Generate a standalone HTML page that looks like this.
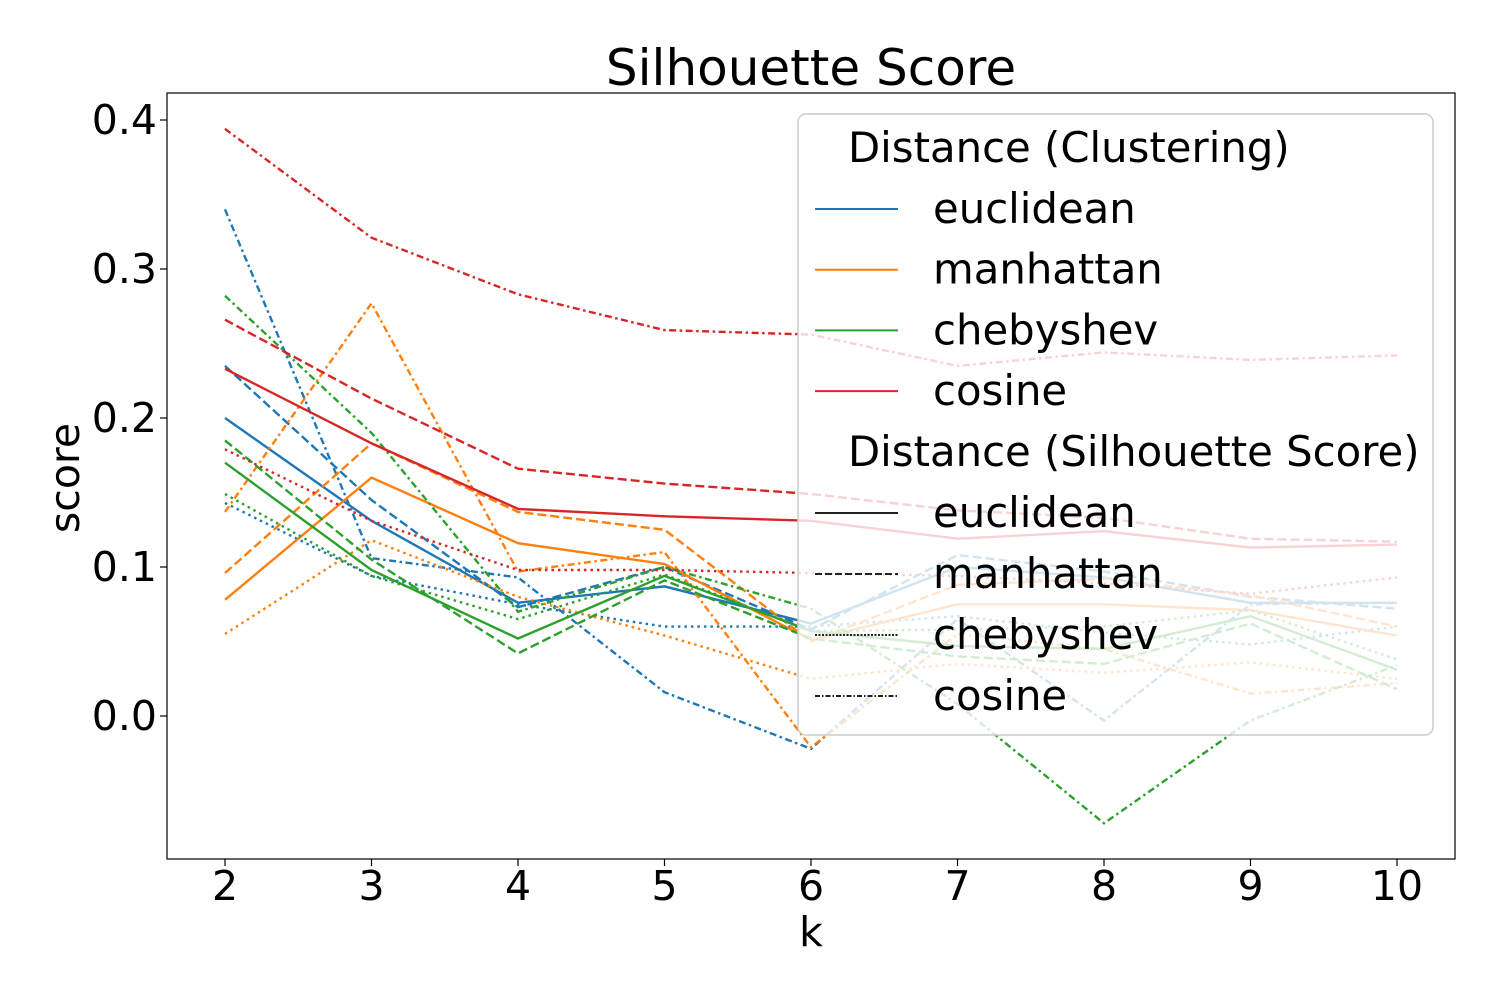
<!DOCTYPE html>
<html><head><meta charset="utf-8"><style>
body{margin:0;background:#fff}
svg text{font-family:"DejaVu Sans","Liberation Sans",sans-serif;fill:#000}
</style></head><body>
<svg id="c" width="1500" height="1000" viewBox="0 0 1500 1000">
<rect x="0" y="0" width="1500" height="1000" fill="#fff"/>
<text x="811" y="85" font-size="50" text-anchor="middle">Silhouette Score</text>
<g id="lines"></g>
<g id="axes"></g>
<g id="legend"></g>
</svg>
<script>
const ks = [2,3,4,5,6,7,8,9,10];
const clusterNames = ['euclidean','manhattan','chebyshev','cosine'];
const scoreNames = ['euclidean','manhattan','chebyshev','cosine'];
const colors = ['#1f77b4','#ff7f0e','#2ca02c','#d62728'];
const dashes = ['', '9,4', '2.5,4', '7,3.5,2.5,3.5'];
const yTicks = [0.0,0.1,0.2,0.3,0.4];
const yTickLabels = ['0.0','0.1','0.2','0.3','0.4'];
// values [clusterDistance][scoreDistance]
const euclideanClust = [
 [0.200,0.131,0.076,0.087,0.062,0.100,0.093,0.076,0.076],
 [0.235,0.145,0.073,0.100,0.058,0.108,0.097,0.080,0.072],
 [0.143,0.094,0.075,0.060,0.060,0.067,0.056,0.048,0.060],
 [0.340,0.106,0.093,0.016,-0.022,0.065,-0.003,0.075,0.076]];
const manhattanClust = [
 [0.078,0.160,0.116,0.102,0.051,0.075,0.075,0.071,0.054],
 [0.096,0.183,0.137,0.125,0.050,0.088,0.092,0.081,0.060],
 [0.055,0.118,0.080,0.054,0.025,0.035,0.029,0.036,0.025],
 [0.137,0.277,0.097,0.110,-0.021,0.055,0.045,0.015,0.022]];
const chebyshevClust = [
 [0.170,0.098,0.052,0.094,0.057,0.047,0.045,0.067,0.031],
 [0.185,0.105,0.042,0.091,0.052,0.040,0.035,0.062,0.018],
 [0.149,0.094,0.065,0.095,0.057,0.058,0.060,0.071,0.038],
 [0.282,0.190,0.070,0.100,0.072,0.008,-0.072,-0.003,0.034]];
const cosineClust = [
 [0.233,0.183,0.139,0.134,0.131,0.119,0.124,0.113,0.115],
 [0.266,0.213,0.166,0.156,0.149,0.138,0.133,0.119,0.117],
 [0.179,0.131,0.098,0.098,0.096,0.094,0.089,0.082,0.093],
 [0.394,0.321,0.283,0.259,0.256,0.235,0.244,0.239,0.242]];
const allSeries = [euclideanClust, manhattanClust, chebyshevClust, cosineClust];

const NS='http://www.w3.org/2000/svg';
const L=167,R=1455,T=93,B=859;
const xs = k => 225 + (k-2)*(1397-225)/8;
const ys = v => 716 - v*1490;
function mk(tag, attrs, parent){const e=document.createElementNS(NS,tag);for(const a in attrs)e.setAttribute(a,attrs[a]);parent.appendChild(e);return e;}

const lines=document.getElementById('lines');
allSeries.forEach((grp,ci)=>{
  grp.forEach((vals,si)=>{
    const d=vals.map((v,i)=>(i?'L':'M')+xs(ks[i]).toFixed(1)+','+ys(v).toFixed(1)).join(' ');
    const p=mk('path',{d:d,fill:'none',stroke:colors[ci],'stroke-width':2.4,'stroke-dasharray':dashes[si]||'none'},lines);
    
    
  });
});

const ax=document.getElementById('axes');
const frame=mk('rect',{x:L,y:T,width:R-L,height:B-T,fill:'none',stroke:'#000','stroke-width':1.2},ax);


ks.forEach(k=>{
  const t=mk('line',{x1:xs(k),x2:xs(k),y1:B,y2:B+7,stroke:'#000','stroke-width':1.2},ax);
  
  
  const tx=mk('text',{x:xs(k),y:900,'font-size':41,'text-anchor':'middle'},ax);
  tx.textContent=k;
  
  
});
yTicks.forEach((v,i)=>{
  const t=mk('line',{x1:L-7,x2:L,y1:ys(v),y2:ys(v),stroke:'#000','stroke-width':1.2},ax);
  
  
  const tx=mk('text',{x:157,y:ys(v)+14,'font-size':41,'text-anchor':'end'},ax);
  tx.textContent=yTickLabels[i];
  
  
});
const xl=mk('text',{x:811,y:946,'font-size':41,'text-anchor':'middle'},ax);
xl.textContent='k';


const yl=mk('text',{x:0,y:0,'font-size':41,'text-anchor':'middle',transform:'translate(79,478) rotate(-90)'},ax);
yl.textContent='score';



const lg=document.getElementById('legend');
const box=mk('rect',{x:798,y:114,width:635,height:621,rx:8,fill:'rgba(255,255,255,0.8)',stroke:'#cccccc','stroke-width':1.5},lg);


function title(txt,y){const t=mk('text',{x:848,y:y,'font-size':41.8},lg);t.textContent=txt;
  
  }
function entry(txt,y,color,dash){
  const l=mk('line',{x1:815,x2:898,y1:y,y2:y,stroke:color,'stroke-width':2,'stroke-dasharray':dash||'none'},lg);
  
  
  const t=mk('text',{x:933,y:y+14,'font-size':41.8},lg);t.textContent=txt;
  
  
}
title('Distance (Clustering)',162);
clusterNames.forEach((n,i)=>entry(n,209+i*60.7,colors[i],''));
title('Distance (Silhouette Score)',466);
scoreNames.forEach((n,i)=>entry(n,513+i*61,'#222',['','7,3','2,1.5','5,2,1.5,2'][i]));
</script>
</body></html>
